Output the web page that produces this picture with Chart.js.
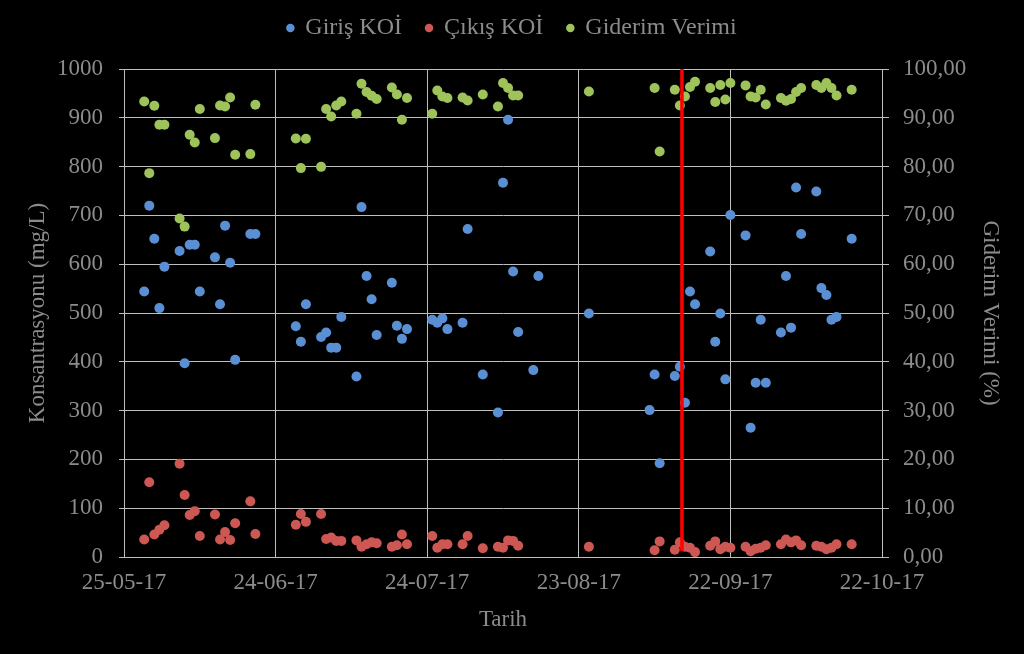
<!DOCTYPE html>
<html lang="tr">
<head>
<meta charset="utf-8">
<script src="https://cdn.jsdelivr.net/npm/chart.js@4.4.1/dist/chart.umd.min.js"></script>
<style>
  html, body { margin: 0; padding: 0; background: #000; }
</style>
</head>
<body>
<canvas id="grafik" width="1024" height="654"></canvas>
<script>
// ölçüm tarihleri (GG-AA-YY)
const tarih = [
  '29-05-17', '30-05-17', '31-05-17', '01-06-17', '02-06-17',
  '05-06-17', '06-06-17', '07-06-17', '08-06-17', '09-06-17',
  '12-06-17', '13-06-17', '14-06-17', '15-06-17', '16-06-17',
  '19-06-17', '20-06-17', '28-06-17', '29-06-17', '30-06-17',
  '03-07-17', '04-07-17', '05-07-17', '06-07-17', '07-07-17',
  '10-07-17', '11-07-17', '12-07-17', '13-07-17', '14-07-17',
  '17-07-17', '18-07-17', '19-07-17', '20-07-17',
  '25-07-17', '26-07-17', '27-07-17', '28-07-17',
  '31-07-17', '01-08-17', '04-08-17',
  '07-08-17', '08-08-17', '09-08-17', '10-08-17', '11-08-17',
  '14-08-17', '15-08-17', '25-08-17',
  '06-09-17', '07-09-17', '08-09-17',
  '11-09-17', '12-09-17', '13-09-17', '14-09-17', '15-09-17',
  '18-09-17', '19-09-17', '20-09-17', '21-09-17', '22-09-17',
  '25-09-17', '26-09-17', '27-09-17', '28-09-17', '29-09-17',
  '02-10-17', '03-10-17', '04-10-17', '05-10-17', '06-10-17',
  '09-10-17', '10-10-17', '11-10-17', '12-10-17', '13-10-17',
  '16-10-17'
]

// Giriş KOİ (mg/L)
const girisKOI = [
  544, 720, 652, 510, 595,
  627, 397, 640, 640, 544,
  614, 518, 679, 603, 404,
  662, 662, 473, 441, 518,
  451, 460, 429, 429, 492,
  370, 717, 576, 528, 455,
  562, 474, 447, 467,
  486, 480, 489, 467,
  480, 672, 374,
  296, 767, 896, 585, 461,
  383, 576, 499,
  301, 374, 192,
  371, 390, 316, 544, 518,
  626, 441, 499, 364, 701,
  659, 265, 357, 486, 357,
  460, 576, 470, 757, 662,
  749, 551, 537, 486, 492,
  652
]

// Çıkış KOİ (mg/L)
const cikisKOI = [
  36, 153, 46, 56, 65,
  191, 127, 86, 94, 43,
  87, 36, 51, 35, 69,
  114, 47, 66, 88, 72,
  88, 37, 40, 33, 33,
  34, 21, 26, 30, 28,
  21, 24, 46, 26,
  43, 19, 26, 26,
  26, 43, 18,
  21, 19, 34, 33, 23,
  null, null, 21,
  null, 14, 32,
  15, 30, 21, 19, 10,
  23, 32, 16, 21, 19,
  21, 12, 17, 19, 24,
  26, 36, 30, 34, 24,
  23, 21, 16, 19, 26,
  26
]

// Giderim Verimi (%)
const giderimVerimi = [
  93.35, 78.66, 92.47, 88.57, 88.57,
  69.35, 67.70, 86.52, 84.94, 91.79,
  85.84, 92.53, 92.33, 94.17, 82.42,
  82.56, 92.68, 85.76, 79.69, 85.70,
  79.95, 91.79, 90.27, 92.53, 93.35,
  90.83, 96.98, 95.28, 94.52, 93.84,
  96.22, 94.79, 89.60, 94.05,
  90.83, 95.61, 94.38, 94.05,
  94.17, 93.56, 94.79,
  92.33, 97.13, 96.10, 94.58, 94.58,
  null, null, 95.40,
  null, 96.10, 83.09,
  95.75, 92.53, 94.38, 96.31, 97.39,
  96.10, 93.23, 96.72, 93.74, 97.13,
  96.64, 94.38, 94.17, 95.75, 92.74,
  94.05, 93.50, 93.84, 95.28, 96.10,
  96.72, 96.10, 97.13, 96.10, 94.58,
  95.75
]

// kırmızı ayrım çizgisi
const ayrimTarihi = '12-09-17'
const ayrimSaati = 10
const ayrimDegerleri = [12, 1000]

// eksen
const eksenBaslangic = '25-05-17'
const eksenBitis = '22-10-17'
const eksenAdimGun = 30

const GUN = 86400000
const yaziRengi = '#8c8c8c'
const cizgiRengi = '#bfbfbf'
const yazi = "'Liberation Serif', 'Times New Roman', serif"

const tarihMs = t => {
  const [g, a, y] = t.split('-').map(Number)
  return Date.UTC(2000 + y, a - 1, g)
}
const baslangicMs = tarihMs(eksenBaslangic)
const gun = t => (tarihMs(t) - baslangicMs) / GUN
const iki = n => String(n).padStart(2, '0')
const tarihEtiketi = v => {
  const d = new Date(baslangicMs + v * GUN)
  return iki(d.getUTCDate()) + '-' + iki(d.getUTCMonth() + 1) + '-' + String(d.getUTCFullYear()).slice(2)
}

const noktalar = seri => {
  const sonuc = []
  seri.forEach((v, i) => { if (v !== null) sonuc.push({ x: gun(tarih[i]), y: v }) })
  return sonuc
}

const ayrimX = gun(ayrimTarihi) + ayrimSaati / 24

const seri = (label, data, renk, eksen, sira) => ({
  label,
  data,
  yAxisID: eksen,
  order: sira,
  backgroundColor: renk,
  borderColor: renk,
  pointRadius: 5,
  pointBorderWidth: 0,
  pointHoverRadius: 5
})

new Chart(document.getElementById('grafik').getContext('2d'), {
  type: 'scatter',
  data: {
    datasets: [
      {
        label: 'ayrım',
        data: ayrimDegerleri.map(y => ({ x: ayrimX, y })),
        yAxisID: 'y',
        order: 0,
        showLine: true,
        borderColor: '#ff0000',
        backgroundColor: '#ff0000',
        borderWidth: 3.5,
        pointRadius: 0
      },
      seri('Giriş KOİ', noktalar(girisKOI), '#5b8fd4', 'y', 3),
      seri('Çıkış KOİ', noktalar(cikisKOI), '#cd5753', 'y', 2),
      seri('Giderim Verimi', noktalar(giderimVerimi), '#9dc35a', 'y1', 1)
    ]
  },
  options: {
    responsive: false,
    animation: false,
    layout: { padding: { top: -8, left: 0, right: 0, bottom: 0 } },
    plugins: {
      tooltip: { enabled: false },
      legend: {
        position: 'top',
        labels: {
          usePointStyle: true,
          pointStyle: 'circle',
          boxWidth: 6,
          boxHeight: 6,
          padding: 24,
          color: yaziRengi,
          font: { family: yazi, size: 24 },
          filter: item => item.datasetIndex > 0,
          sort: (a, b) => a.datasetIndex - b.datasetIndex
        }
      },
      // lejant ile çizim alanı arasındaki boşluk
      subtitle: {
        display: true,
        text: '',
        weight: 500,
        font: { size: 10 },
        padding: { top: 0, bottom: 7 }
      }
    },
    scales: {
      x: {
        type: 'linear',
        position: 'bottom',
        min: 0,
        max: gun(eksenBitis),
        afterFit: s => { s.height = 97 },
        ticks: {
          stepSize: eksenAdimGun,
          callback: v => tarihEtiketi(v),
          color: yaziRengi,
          font: { family: yazi, size: 23 },
          padding: 12,
          maxRotation: 0
        },
        grid: { color: cizgiRengi, drawTicks: false },
        border: { color: cizgiRengi },
        title: {
          display: true,
          text: 'Tarih',
          color: yaziRengi,
          font: { family: yazi, size: 23 },
          padding: { top: 0, bottom: 20 }
        }
      },
      y: {
        position: 'left',
        min: 0,
        max: 1000,
        afterFit: s => { s.width = 124 },
        ticks: {
          stepSize: 100,
          callback: v => String(v),
          color: yaziRengi,
          font: { family: yazi, size: 23 },
          padding: 16
        },
        grid: { color: cizgiRengi, tickLength: 5 },
        border: { color: cizgiRengi },
        title: {
          display: true,
          text: 'Konsantrasyonu (mg/L)',
          color: yaziRengi,
          font: { family: yazi, size: 23 },
          padding: { top: 24, bottom: 0 }
        }
      },
      y1: {
        position: 'right',
        min: 0,
        max: 100,
        afterFit: s => { s.width = 142 },
        ticks: {
          stepSize: 10,
          callback: v => v.toFixed(2).replace('.', ','),
          color: yaziRengi,
          font: { family: yazi, size: 23 },
          padding: 14
        },
        grid: { color: cizgiRengi, drawOnChartArea: false, tickLength: 7 },
        border: { color: cizgiRengi },
        title: {
          display: true,
          text: 'Giderim Verimi (%)',
          color: yaziRengi,
          font: { family: yazi, size: 23 },
          padding: { top: 20, bottom: 0 }
        }
      }
    }
  }
})
</script>
</body>
</html>
